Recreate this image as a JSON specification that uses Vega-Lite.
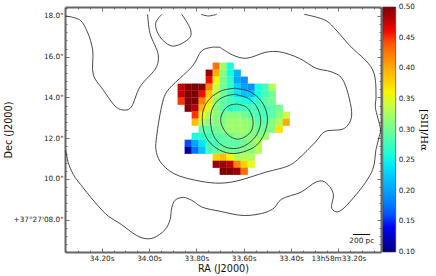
{
"$schema":"https://vega.github.io/schema/vega-lite/v6.json",
"width":316,"height":245,
"autosize":{"type":"none"},
"padding":{"left":65,"top":7,"right":55,"bottom":24},
"background":"white",
"config":{"view":{"stroke":null},"font":"DejaVu Sans","axis":{"grid":false,"domainColor":"#666666","domainWidth":2,"tickColor":"#555555","tickWidth":0.8,"labelFontSize":7.3,"labelColor":"#222222","titleFontSize":9.7,"titleFontWeight":"normal","titleColor":"#111111"}},
"datasets":{
"cells":[
{"col":5,"row":0,"ra":33.7161,"dec":15.534,"ratio":0.43},{"col":6,"row":0,"ra":33.6866,"dec":15.534,"ratio":0.32},{"col":7,"row":0,"ra":33.657,"dec":15.534,"ratio":0.25},
{"col":4,"row":1,"ra":33.7457,"dec":15.19,"ratio":0.49},{"col":5,"row":1,"ra":33.7161,"dec":15.19,"ratio":0.4},{"col":6,"row":1,"ra":33.6866,"dec":15.19,"ratio":0.31},{"col":7,"row":1,"ra":33.657,"dec":15.19,"ratio":0.25},{"col":8,"row":1,"ra":33.6274,"dec":15.19,"ratio":0.21},
{"col":4,"row":2,"ra":33.7457,"dec":14.846,"ratio":0.46},{"col":5,"row":2,"ra":33.7161,"dec":14.846,"ratio":0.36},{"col":6,"row":2,"ra":33.6866,"dec":14.846,"ratio":0.3},{"col":7,"row":2,"ra":33.657,"dec":14.846,"ratio":0.27},{"col":8,"row":2,"ra":33.6274,"dec":14.846,"ratio":0.205},{"col":9,"row":2,"ra":33.5978,"dec":14.846,"ratio":0.19},
{"col":0,"row":3,"ra":33.8641,"dec":14.502,"ratio":0.475},{"col":1,"row":3,"ra":33.8345,"dec":14.502,"ratio":0.495},{"col":2,"row":3,"ra":33.8049,"dec":14.502,"ratio":0.5},{"col":3,"row":3,"ra":33.7753,"dec":14.502,"ratio":0.495},{"col":4,"row":3,"ra":33.7457,"dec":14.502,"ratio":0.42},{"col":5,"row":3,"ra":33.7161,"dec":14.502,"ratio":0.34},{"col":6,"row":3,"ra":33.6866,"dec":14.502,"ratio":0.3},{"col":7,"row":3,"ra":33.657,"dec":14.502,"ratio":0.27},{"col":8,"row":3,"ra":33.6274,"dec":14.502,"ratio":0.23},{"col":9,"row":3,"ra":33.5978,"dec":14.502,"ratio":0.2},{"col":10,"row":3,"ra":33.5682,"dec":14.502,"ratio":0.19},{"col":11,"row":3,"ra":33.5386,"dec":14.502,"ratio":0.25},{"col":12,"row":3,"ra":33.509,"dec":14.502,"ratio":0.28},{"col":13,"row":3,"ra":33.4794,"dec":14.502,"ratio":0.33},
{"col":0,"row":4,"ra":33.8641,"dec":14.158,"ratio":0.475},{"col":1,"row":4,"ra":33.8345,"dec":14.158,"ratio":0.5},{"col":2,"row":4,"ra":33.8049,"dec":14.158,"ratio":0.5},{"col":3,"row":4,"ra":33.7753,"dec":14.158,"ratio":0.46},{"col":4,"row":4,"ra":33.7457,"dec":14.158,"ratio":0.385},{"col":5,"row":4,"ra":33.7161,"dec":14.158,"ratio":0.33},{"col":6,"row":4,"ra":33.6866,"dec":14.158,"ratio":0.3},{"col":7,"row":4,"ra":33.657,"dec":14.158,"ratio":0.27},{"col":8,"row":4,"ra":33.6274,"dec":14.158,"ratio":0.24},{"col":9,"row":4,"ra":33.5978,"dec":14.158,"ratio":0.22},{"col":10,"row":4,"ra":33.5682,"dec":14.158,"ratio":0.22},{"col":11,"row":4,"ra":33.5386,"dec":14.158,"ratio":0.25},{"col":12,"row":4,"ra":33.509,"dec":14.158,"ratio":0.28},{"col":13,"row":4,"ra":33.4794,"dec":14.158,"ratio":0.3},
{"col":0,"row":5,"ra":33.8641,"dec":13.813,"ratio":0.45},{"col":1,"row":5,"ra":33.8345,"dec":13.813,"ratio":0.5},{"col":2,"row":5,"ra":33.8049,"dec":13.813,"ratio":0.5},{"col":3,"row":5,"ra":33.7753,"dec":13.813,"ratio":0.42},{"col":4,"row":5,"ra":33.7457,"dec":13.813,"ratio":0.37},{"col":5,"row":5,"ra":33.7161,"dec":13.813,"ratio":0.31},{"col":6,"row":5,"ra":33.6866,"dec":13.813,"ratio":0.29},{"col":7,"row":5,"ra":33.657,"dec":13.813,"ratio":0.28},{"col":8,"row":5,"ra":33.6274,"dec":13.813,"ratio":0.27},{"col":9,"row":5,"ra":33.5978,"dec":13.813,"ratio":0.26},{"col":10,"row":5,"ra":33.5682,"dec":13.813,"ratio":0.25},{"col":11,"row":5,"ra":33.5386,"dec":13.813,"ratio":0.27},{"col":12,"row":5,"ra":33.509,"dec":13.813,"ratio":0.29},{"col":13,"row":5,"ra":33.4794,"dec":13.813,"ratio":0.3},
{"col":1,"row":6,"ra":33.8345,"dec":13.469,"ratio":0.5},{"col":2,"row":6,"ra":33.8049,"dec":13.469,"ratio":0.48},{"col":3,"row":6,"ra":33.7753,"dec":13.469,"ratio":0.39},{"col":4,"row":6,"ra":33.7457,"dec":13.469,"ratio":0.35},{"col":5,"row":6,"ra":33.7161,"dec":13.469,"ratio":0.31},{"col":6,"row":6,"ra":33.6866,"dec":13.469,"ratio":0.29},{"col":7,"row":6,"ra":33.657,"dec":13.469,"ratio":0.27},{"col":8,"row":6,"ra":33.6274,"dec":13.469,"ratio":0.27},{"col":9,"row":6,"ra":33.5978,"dec":13.469,"ratio":0.28},{"col":10,"row":6,"ra":33.5682,"dec":13.469,"ratio":0.28},{"col":11,"row":6,"ra":33.5386,"dec":13.469,"ratio":0.28},{"col":12,"row":6,"ra":33.509,"dec":13.469,"ratio":0.28},{"col":13,"row":6,"ra":33.4794,"dec":13.469,"ratio":0.29},{"col":14,"row":6,"ra":33.4498,"dec":13.469,"ratio":0.3},
{"col":2,"row":7,"ra":33.8049,"dec":13.125,"ratio":0.45},{"col":3,"row":7,"ra":33.7753,"dec":13.125,"ratio":0.36},{"col":4,"row":7,"ra":33.7457,"dec":13.125,"ratio":0.33},{"col":5,"row":7,"ra":33.7161,"dec":13.125,"ratio":0.31},{"col":6,"row":7,"ra":33.6866,"dec":13.125,"ratio":0.3},{"col":7,"row":7,"ra":33.657,"dec":13.125,"ratio":0.31},{"col":8,"row":7,"ra":33.6274,"dec":13.125,"ratio":0.31},{"col":9,"row":7,"ra":33.5978,"dec":13.125,"ratio":0.3},{"col":10,"row":7,"ra":33.5682,"dec":13.125,"ratio":0.29},{"col":11,"row":7,"ra":33.5386,"dec":13.125,"ratio":0.28},{"col":12,"row":7,"ra":33.509,"dec":13.125,"ratio":0.28},{"col":13,"row":7,"ra":33.4794,"dec":13.125,"ratio":0.29},{"col":14,"row":7,"ra":33.4498,"dec":13.125,"ratio":0.31},{"col":15,"row":7,"ra":33.4203,"dec":13.125,"ratio":0.34},
{"col":2,"row":8,"ra":33.8049,"dec":12.781,"ratio":0.39},{"col":3,"row":8,"ra":33.7753,"dec":12.781,"ratio":0.33},{"col":4,"row":8,"ra":33.7457,"dec":12.781,"ratio":0.31},{"col":5,"row":8,"ra":33.7161,"dec":12.781,"ratio":0.31},{"col":6,"row":8,"ra":33.6866,"dec":12.781,"ratio":0.31},{"col":7,"row":8,"ra":33.657,"dec":12.781,"ratio":0.32},{"col":8,"row":8,"ra":33.6274,"dec":12.781,"ratio":0.32},{"col":9,"row":8,"ra":33.5978,"dec":12.781,"ratio":0.32},{"col":10,"row":8,"ra":33.5682,"dec":12.781,"ratio":0.31},{"col":11,"row":8,"ra":33.5386,"dec":12.781,"ratio":0.29},{"col":12,"row":8,"ra":33.509,"dec":12.781,"ratio":0.29},{"col":13,"row":8,"ra":33.4794,"dec":12.781,"ratio":0.31},{"col":14,"row":8,"ra":33.4498,"dec":12.781,"ratio":0.33},{"col":15,"row":8,"ra":33.4203,"dec":12.781,"ratio":0.4},
{"col":3,"row":9,"ra":33.7753,"dec":12.437,"ratio":0.29},{"col":4,"row":9,"ra":33.7457,"dec":12.437,"ratio":0.29},{"col":5,"row":9,"ra":33.7161,"dec":12.437,"ratio":0.3},{"col":6,"row":9,"ra":33.6866,"dec":12.437,"ratio":0.31},{"col":7,"row":9,"ra":33.657,"dec":12.437,"ratio":0.32},{"col":8,"row":9,"ra":33.6274,"dec":12.437,"ratio":0.32},{"col":9,"row":9,"ra":33.5978,"dec":12.437,"ratio":0.32},{"col":10,"row":9,"ra":33.5682,"dec":12.437,"ratio":0.31},{"col":11,"row":9,"ra":33.5386,"dec":12.437,"ratio":0.3},{"col":12,"row":9,"ra":33.509,"dec":12.437,"ratio":0.3},{"col":13,"row":9,"ra":33.4794,"dec":12.437,"ratio":0.31},{"col":14,"row":9,"ra":33.4498,"dec":12.437,"ratio":0.37},
{"col":2,"row":10,"ra":33.8049,"dec":12.093,"ratio":0.25},{"col":3,"row":10,"ra":33.7753,"dec":12.093,"ratio":0.27},{"col":4,"row":10,"ra":33.7457,"dec":12.093,"ratio":0.28},{"col":5,"row":10,"ra":33.7161,"dec":12.093,"ratio":0.29},{"col":6,"row":10,"ra":33.6866,"dec":12.093,"ratio":0.29},{"col":7,"row":10,"ra":33.657,"dec":12.093,"ratio":0.3},{"col":8,"row":10,"ra":33.6274,"dec":12.093,"ratio":0.31},{"col":9,"row":10,"ra":33.5978,"dec":12.093,"ratio":0.31},{"col":10,"row":10,"ra":33.5682,"dec":12.093,"ratio":0.31},{"col":11,"row":10,"ra":33.5386,"dec":12.093,"ratio":0.31},{"col":12,"row":10,"ra":33.509,"dec":12.093,"ratio":0.32},
{"col":1,"row":11,"ra":33.8345,"dec":11.749,"ratio":0.16},{"col":2,"row":11,"ra":33.8049,"dec":11.749,"ratio":0.2},{"col":3,"row":11,"ra":33.7753,"dec":11.749,"ratio":0.24},{"col":4,"row":11,"ra":33.7457,"dec":11.749,"ratio":0.28},{"col":5,"row":11,"ra":33.7161,"dec":11.749,"ratio":0.28},{"col":6,"row":11,"ra":33.6866,"dec":11.749,"ratio":0.29},{"col":7,"row":11,"ra":33.657,"dec":11.749,"ratio":0.29},{"col":8,"row":11,"ra":33.6274,"dec":11.749,"ratio":0.29},{"col":9,"row":11,"ra":33.5978,"dec":11.749,"ratio":0.3},{"col":10,"row":11,"ra":33.5682,"dec":11.749,"ratio":0.31},{"col":11,"row":11,"ra":33.5386,"dec":11.749,"ratio":0.33},
{"col":1,"row":12,"ra":33.8345,"dec":11.405,"ratio":0.11},{"col":2,"row":12,"ra":33.8049,"dec":11.405,"ratio":0.175},{"col":3,"row":12,"ra":33.7753,"dec":11.405,"ratio":0.22},{"col":4,"row":12,"ra":33.7457,"dec":11.405,"ratio":0.28},{"col":5,"row":12,"ra":33.7161,"dec":11.405,"ratio":0.29},{"col":6,"row":12,"ra":33.6866,"dec":11.405,"ratio":0.3},{"col":7,"row":12,"ra":33.657,"dec":11.405,"ratio":0.3},{"col":8,"row":12,"ra":33.6274,"dec":11.405,"ratio":0.3},{"col":9,"row":12,"ra":33.5978,"dec":11.405,"ratio":0.31},{"col":10,"row":12,"ra":33.5682,"dec":11.405,"ratio":0.31},{"col":11,"row":12,"ra":33.5386,"dec":11.405,"ratio":0.33},
{"col":5,"row":13,"ra":33.7161,"dec":11.061,"ratio":0.38},{"col":6,"row":13,"ra":33.6866,"dec":11.061,"ratio":0.39},{"col":7,"row":13,"ra":33.657,"dec":11.061,"ratio":0.36},{"col":8,"row":13,"ra":33.6274,"dec":11.061,"ratio":0.33},{"col":9,"row":13,"ra":33.5978,"dec":11.061,"ratio":0.33},{"col":10,"row":13,"ra":33.5682,"dec":11.061,"ratio":0.33},
{"col":5,"row":14,"ra":33.7161,"dec":10.717,"ratio":0.49},{"col":6,"row":14,"ra":33.6866,"dec":10.717,"ratio":0.49},{"col":7,"row":14,"ra":33.657,"dec":10.717,"ratio":0.475},{"col":8,"row":14,"ra":33.6274,"dec":10.717,"ratio":0.42},{"col":9,"row":14,"ra":33.5978,"dec":10.717,"ratio":0.38},{"col":10,"row":14,"ra":33.5682,"dec":10.717,"ratio":0.35},
{"col":6,"row":15,"ra":33.6866,"dec":10.373,"ratio":0.5},{"col":7,"row":15,"ra":33.657,"dec":10.373,"ratio":0.5},{"col":8,"row":15,"ra":33.6274,"dec":10.373,"ratio":0.49},{"col":9,"row":15,"ra":33.5978,"dec":10.373,"ratio":0.43}
],
"contours":[
{"c":"a","i":0,"ra":34.354,"dec":18.0},{"c":"a","i":1,"ra":34.292,"dec":17.8},{"c":"a","i":2,"ra":34.261,"dec":17.23},{"c":"a","i":3,"ra":34.238,"dec":16.33},{"c":"a","i":4,"ra":34.235,"dec":15.1},{"c":"a","i":5,"ra":34.193,"dec":14.36},{"c":"a","i":6,"ra":34.137,"dec":13.51},{"c":"a","i":7,"ra":34.106,"dec":13.38},{"c":"a","i":8,"ra":34.08,"dec":13.46},{"c":"a","i":9,"ra":34.038,"dec":14.52},{"c":"a","i":10,"ra":33.968,"dec":15.51},{"c":"a","i":11,"ra":33.961,"dec":16.08},{"c":"a","i":12,"ra":33.996,"dec":17.15},{"c":"a","i":13,"ra":34.006,"dec":18.08},
{"c":"b","i":0,"ra":33.946,"dec":18.08},{"c":"b","i":1,"ra":33.972,"dec":17.64},{"c":"b","i":2,"ra":33.954,"dec":16.98},{"c":"b","i":3,"ra":33.9,"dec":16.52},{"c":"b","i":4,"ra":33.827,"dec":16.95},{"c":"b","i":5,"ra":33.824,"dec":17.31},{"c":"b","i":6,"ra":33.862,"dec":18.08},
{"c":"c","i":0,"ra":33.78,"dec":18.08},{"c":"c","i":1,"ra":33.749,"dec":18.0},{"c":"c","i":2,"ra":33.714,"dec":18.08},
{"c":"d","i":0,"ra":33.344,"dec":18.08},{"c":"d","i":1,"ra":33.252,"dec":17.77},{"c":"d","i":2,"ra":33.21,"dec":17.31},{"c":"d","i":3,"ra":33.154,"dec":16.57},{"c":"d","i":4,"ra":33.055,"dec":15.35},{"c":"d","i":5,"ra":33.041,"dec":14.03},{"c":"d","i":6,"ra":33.044,"dec":13.54},{"c":"d","i":7,"ra":33.022,"dec":12.4},{"c":"d","i":8,"ra":33.027,"dec":12.1},{"c":"d","i":9,"ra":33.041,"dec":11.45},{"c":"d","i":10,"ra":33.055,"dec":10.46},{"c":"d","i":11,"ra":33.125,"dec":9.23},{"c":"d","i":12,"ra":33.203,"dec":8.38},{"c":"d","i":13,"ra":33.228,"dec":8.55},{"c":"d","i":14,"ra":33.221,"dec":9.23},{"c":"d","i":15,"ra":33.238,"dec":9.64},{"c":"d","i":16,"ra":33.266,"dec":9.89},{"c":"d","i":17,"ra":33.294,"dec":9.85},{"c":"d","i":18,"ra":33.358,"dec":9.35},{"c":"d","i":19,"ra":33.442,"dec":8.99},{"c":"d","i":20,"ra":33.471,"dec":8.58},{"c":"d","i":21,"ra":33.506,"dec":8.36},{"c":"d","i":22,"ra":33.597,"dec":8.2},{"c":"d","i":23,"ra":33.7,"dec":8.41},{"c":"d","i":24,"ra":33.777,"dec":8.62},{"c":"d","i":25,"ra":33.82,"dec":8.95},{"c":"d","i":26,"ra":33.855,"dec":9.09},{"c":"d","i":27,"ra":33.89,"dec":8.95},{"c":"d","i":28,"ra":33.904,"dec":8.58},{"c":"d","i":29,"ra":33.911,"dec":8.0},{"c":"d","i":30,"ra":33.932,"dec":7.51},{"c":"d","i":31,"ra":33.982,"dec":7.1},{"c":"d","i":32,"ra":34.017,"dec":7.07},{"c":"d","i":33,"ra":34.052,"dec":7.22},{"c":"d","i":34,"ra":34.123,"dec":7.81},{"c":"d","i":35,"ra":34.172,"dec":8.17},{"c":"d","i":36,"ra":34.214,"dec":8.66},{"c":"d","i":37,"ra":34.278,"dec":9.56},{"c":"d","i":38,"ra":34.32,"dec":10.22},{"c":"d","i":39,"ra":34.341,"dec":10.79},{"c":"d","i":40,"ra":34.352,"dec":11.41},
{"c":"m","i":0,"ra":33.7,"dec":16.46},{"c":"m","i":1,"ra":33.735,"dec":16.46},{"c":"m","i":2,"ra":33.777,"dec":16.29},{"c":"m","i":3,"ra":33.813,"dec":15.59},{"c":"m","i":4,"ra":33.925,"dec":14.28},{"c":"m","i":5,"ra":33.942,"dec":13.79},{"c":"m","i":6,"ra":33.968,"dec":12.07},{"c":"m","i":7,"ra":33.971,"dec":11.45},{"c":"m","i":8,"ra":33.954,"dec":10.87},{"c":"m","i":9,"ra":33.897,"dec":10.27},{"c":"m","i":10,"ra":33.785,"dec":9.89},{"c":"m","i":11,"ra":33.7,"dec":9.79},{"c":"m","i":12,"ra":33.632,"dec":9.89},{"c":"m","i":13,"ra":33.506,"dec":10.33},{"c":"m","i":14,"ra":33.407,"dec":10.66},{"c":"m","i":15,"ra":33.372,"dec":10.95},{"c":"m","i":16,"ra":33.294,"dec":11.85},{"c":"m","i":17,"ra":33.259,"dec":12.31},{"c":"m","i":18,"ra":33.175,"dec":12.48},{"c":"m","i":19,"ra":33.146,"dec":12.97},{"c":"m","i":20,"ra":33.154,"dec":13.95},{"c":"m","i":21,"ra":33.189,"dec":14.99},{"c":"m","i":22,"ra":33.231,"dec":15.26},{"c":"m","i":23,"ra":33.294,"dec":15.43},{"c":"m","i":24,"ra":33.365,"dec":15.92},{"c":"m","i":25,"ra":33.449,"dec":16.24},{"c":"m","i":26,"ra":33.506,"dec":16.22},{"c":"m","i":27,"ra":33.59,"dec":15.92},{"c":"m","i":28,"ra":33.646,"dec":16.08},{"c":"m","i":29,"ra":33.7,"dec":16.46},
{"c":"r1","i":0,"ra":33.637,"dec":14.45},{"c":"r1","i":1,"ra":33.573,"dec":14.28},{"c":"r1","i":2,"ra":33.524,"dec":13.79},{"c":"r1","i":3,"ra":33.5,"dec":13.05},{"c":"r1","i":4,"ra":33.51,"dec":12.31},{"c":"r1","i":5,"ra":33.545,"dec":11.66},{"c":"r1","i":6,"ra":33.601,"dec":11.33},{"c":"r1","i":7,"ra":33.658,"dec":11.25},{"c":"r1","i":8,"ra":33.714,"dec":11.5},{"c":"r1","i":9,"ra":33.756,"dec":11.99},{"c":"r1","i":10,"ra":33.773,"dec":12.64},{"c":"r1","i":11,"ra":33.771,"dec":13.38},{"c":"r1","i":12,"ra":33.742,"dec":13.95},{"c":"r1","i":13,"ra":33.693,"dec":14.33},{"c":"r1","i":14,"ra":33.637,"dec":14.45},
{"c":"r2","i":0,"ra":33.637,"dec":14.15},{"c":"r2","i":1,"ra":33.58,"dec":13.95},{"c":"r2","i":2,"ra":33.545,"dec":13.54},{"c":"r2","i":3,"ra":33.528,"dec":12.89},{"c":"r2","i":4,"ra":33.542,"dec":12.23},{"c":"r2","i":5,"ra":33.58,"dec":11.74},{"c":"r2","i":6,"ra":33.629,"dec":11.5},{"c":"r2","i":7,"ra":33.679,"dec":11.57},{"c":"r2","i":8,"ra":33.721,"dec":11.99},{"c":"r2","i":9,"ra":33.739,"dec":12.64},{"c":"r2","i":10,"ra":33.735,"dec":13.38},{"c":"r2","i":11,"ra":33.707,"dec":13.87},{"c":"r2","i":12,"ra":33.672,"dec":14.08},{"c":"r2","i":13,"ra":33.637,"dec":14.15},
{"c":"r3","i":0,"ra":33.627,"dec":13.67},{"c":"r3","i":1,"ra":33.587,"dec":13.51},{"c":"r3","i":2,"ra":33.562,"dec":12.97},{"c":"r3","i":3,"ra":33.566,"dec":12.4},{"c":"r3","i":4,"ra":33.594,"dec":12.07},{"c":"r3","i":5,"ra":33.627,"dec":11.95},{"c":"r3","i":6,"ra":33.665,"dec":12.15},{"c":"r3","i":7,"ra":33.693,"dec":12.64},{"c":"r3","i":8,"ra":33.697,"dec":12.97},{"c":"r3","i":9,"ra":33.683,"dec":13.38},{"c":"r3","i":10,"ra":33.658,"dec":13.62},{"c":"r3","i":11,"ra":33.627,"dec":13.67}
]
},
"layer":[
{"data":{"name":"cells"},
 "mark":{"type":"rect","width":7.2,"height":7.2},
 "encoding":{
  "x":{"field":"ra","type":"quantitative","scale":{"domain":[34.355,33.02],"nice":false,"zero":false},
    "axis":{"orient":"bottom","values":[34.2,34.0,33.8,33.6,33.4,33.2],"tickSize":-4,"labelPadding":6,"title":"RA (J2000)","titleY":11,"labelFlush":false,"labelExpr":"datum.value<33.3 ? '13h58m33.20s' : format(datum.value,'.2f')+'s'"}},
  "y":{"field":"dec","type":"quantitative","scale":{"domain":[6.41,18.44],"nice":false,"zero":false},
    "axis":{"orient":"left","values":[8,10,12,14,16,18],"tickSize":-4,"labelPadding":6,"title":"Dec (J2000)","titleX":-52,"labelExpr":"datum.value==8 ? '+37°27\\'08.0\"' : format(datum.value,'.1f')+'\"'"}},
  "color":{"field":"ratio","type":"quantitative",
    "scale":{"domain":[0.1,0.144,0.236,0.25,0.356,0.364,0.456,0.464,0.5],"range":["#00007f","#0000ff","#00dbff","#14ffe2","#eeff08","#ffed00","#ff1300","#e80000","#7f0000"],"clamp":true},
    "legend":{"orient":"none","legendX":317.7,"legendY":0,"gradientLength":245,"gradientThickness":13,"gradientStrokeColor":"#333333","gradientStrokeWidth":0.6,"values":[0.1,0.15,0.2,0.25,0.3,0.35,0.4,0.45,0.5],"format":".2f","labelFontSize":7.3,"labelColor":"#222222","labelOffset":3,"title":"[SII]/Hα","titleOrient":"right","titlePadding":9,"titleFont":"DejaVu Serif","titleFontSize":10,"titleFontWeight":"normal","titleAngle":270,"titleAlign":"center","titleBaseline":"middle","titleAnchor":"middle","encode":{"labels":{"update":{"baseline":{"value":"middle"}}}}}}
 }},
{"data":{"name":"contours"},
 "mark":{"type":"line","interpolate":"catmull-rom","color":"#333333","strokeWidth":0.9},
 "encoding":{
  "x":{"field":"ra","type":"quantitative","axis":{"orient":"top","values":[34.2,34.0,33.8,33.6,33.4,33.2],"tickSize":-4,"labels":false,"title":null}},
  "y":{"field":"dec","type":"quantitative","axis":{"orient":"right","values":[8,10,12,14,16,18],"tickSize":-4,"labels":false,"title":null}},
  "detail":{"field":"c"},
  "order":{"field":"i"}
 }},
{"data":{"values":[{"ra":33.139,"dec":7.27},{"ra":33.066,"dec":7.27}]},
 "mark":{"type":"line","color":"#111111","strokeWidth":1},
 "encoding":{
  "x":{"field":"ra","type":"quantitative","axis":{"orient":"bottom","values":[34.35,34.3,34.25,34.15,34.1,34.05,33.95,33.9,33.85,33.75,33.7,33.65,33.55,33.5,33.45,33.35,33.3,33.25,33.15,33.1,33.05],"tickSize":-2,"labels":false,"domain":false,"title":null}},
  "y":{"field":"dec","type":"quantitative","axis":{"orient":"left","values":[6.8,7.2,7.6,8.4,8.8,9.2,9.6,10.4,10.8,11.2,11.6,12.4,12.8,13.2,13.6,14.4,14.8,15.2,15.6,16.4,16.8,17.2,17.6,18.4],"tickSize":-2,"labels":false,"domain":false,"title":null}}
 }},
{"data":{"values":[{"ra":33.101,"dec":6.97,"label":"200 pc"}]},
 "mark":{"type":"text","fontSize":7.3,"color":"#222222"},
 "encoding":{
  "x":{"field":"ra","type":"quantitative","axis":{"orient":"top","values":[34.35,34.3,34.25,34.15,34.1,34.05,33.95,33.9,33.85,33.75,33.7,33.65,33.55,33.5,33.45,33.35,33.3,33.25,33.15,33.1,33.05],"tickSize":-2,"labels":false,"domain":false,"title":null}},
  "y":{"field":"dec","type":"quantitative","axis":{"orient":"right","values":[6.8,7.2,7.6,8.4,8.8,9.2,9.6,10.4,10.8,11.2,11.6,12.4,12.8,13.2,13.6,14.4,14.8,15.2,15.6,16.4,16.8,17.2,17.6,18.4],"tickSize":-2,"labels":false,"domain":false,"title":null}},
  "text":{"field":"label"}
 }}
],
"resolve":{"axis":{"x":"independent","y":"independent"}}
}
